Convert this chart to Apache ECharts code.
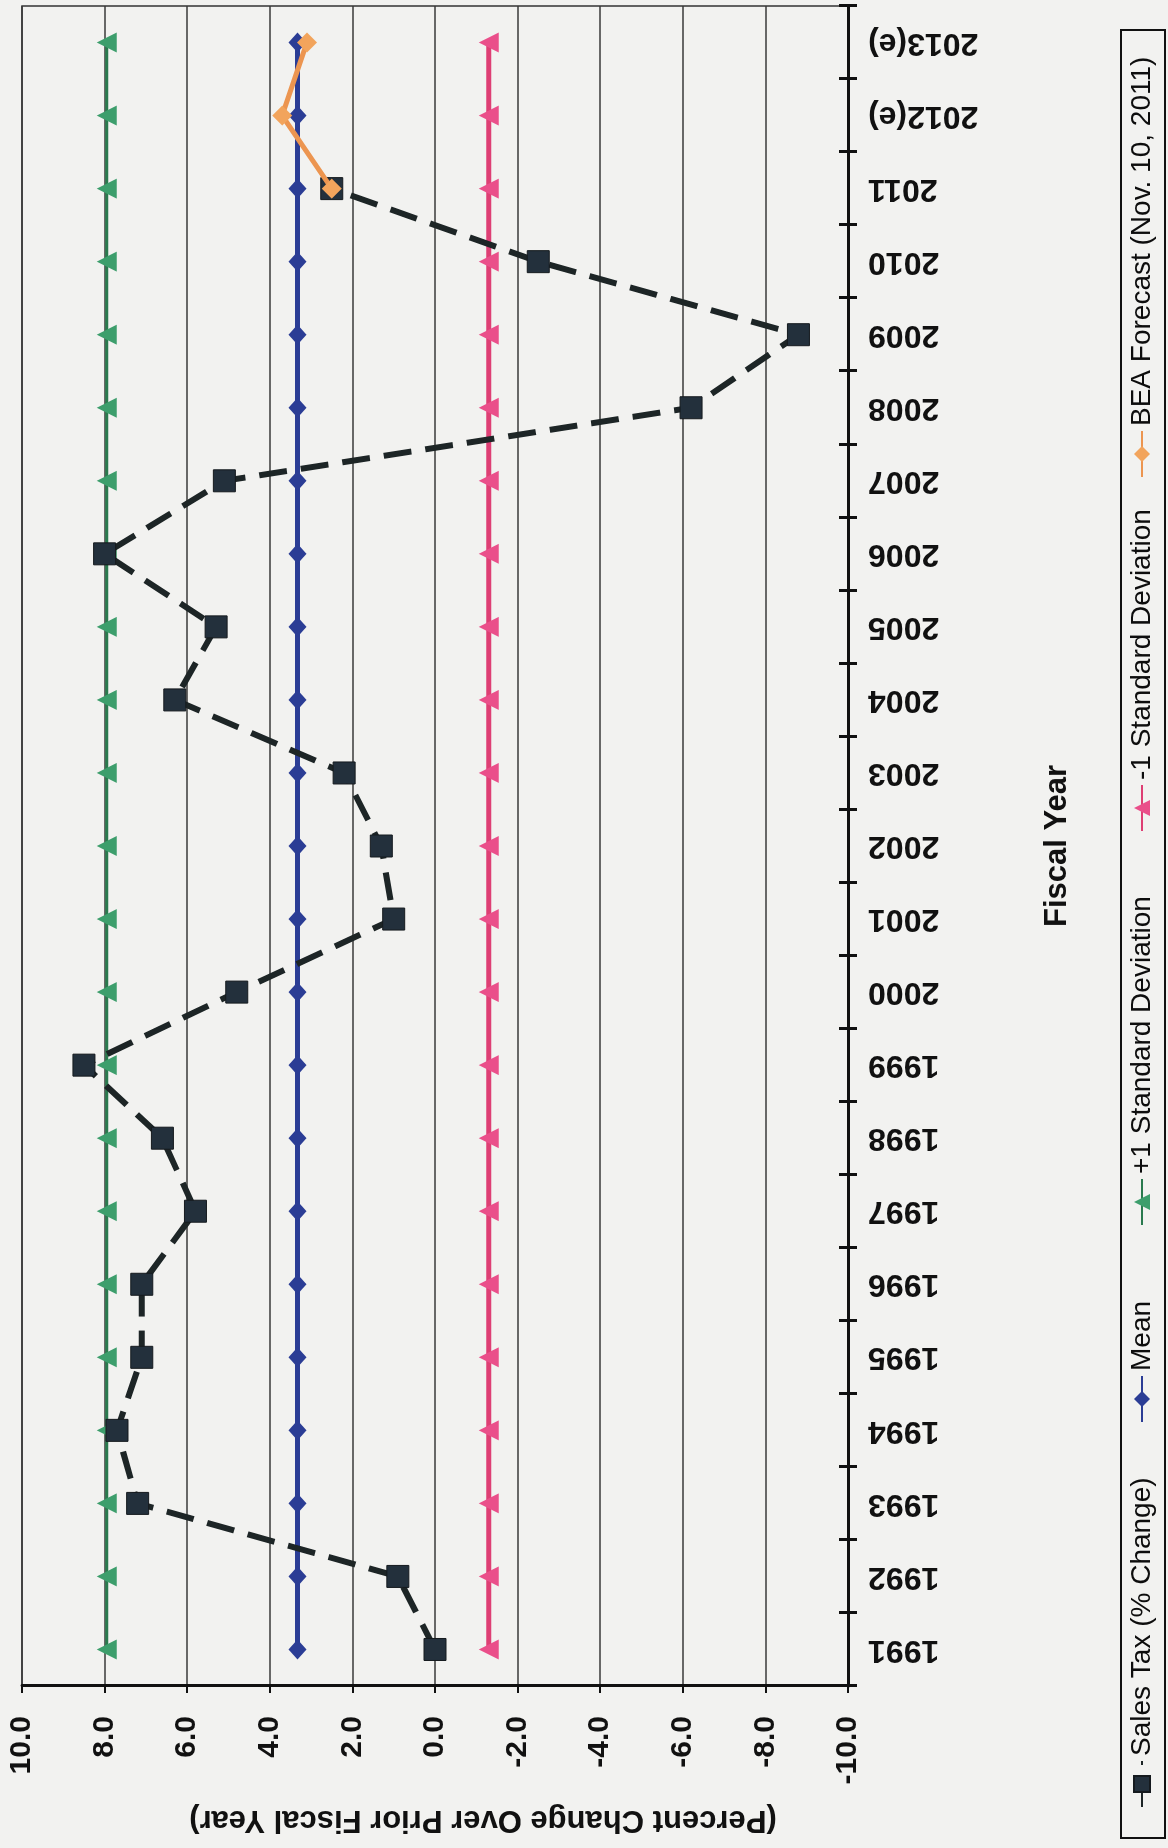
<!DOCTYPE html>
<html>
<head>
<meta charset="utf-8">
<script src="https://cdn.jsdelivr.net/npm/echarts@6/dist/echarts.min.js"></script>
<style>
  html, body { margin: 0; padding: 0; background: #f2f2f0; }
  body { width: 1168px; height: 1848px; overflow: hidden; position: relative; }
  /* landscape chart turned a quarter-turn counter-clockwise onto the portrait page */
  #chart {
    position: absolute; left: 0; top: 0;
    width: 1848px; height: 1168px;
    transform-origin: 0 0;
    transform: translate(0, 1848px) rotate(-90deg);
  }
</style>
</head>
<body>
<div id="chart"></div>
<script>
const fiscalYears = ['1991','1992','1993','1994','1995','1996','1997','1998','1999','2000',
  '2001','2002','2003','2004','2005','2006','2007','2008','2009','2010','2011','2012(e)','2013(e)'];

const salesTaxChange = [0.0, 0.9, 7.2, 7.7, 7.1, 7.1, 5.8, 6.6, 8.5, 4.8,
  1.0, 1.3, 2.2, 6.3, 5.3, 8.0, 5.1, -6.2, -8.8, -2.5, 2.5, null, null];

const meanLine = [3.33, 3.33, 3.33, 3.33, 3.33, 3.33, 3.33, 3.33, 3.33, 3.33, 3.33, 3.33,
  3.33, 3.33, 3.33, 3.33, 3.33, 3.33, 3.33, 3.33, 3.33, 3.33, 3.33];

const plusOneSD = [7.95, 7.95, 7.95, 7.95, 7.95, 7.95, 7.95, 7.95, 7.95, 7.95, 7.95, 7.95,
  7.95, 7.95, 7.95, 7.95, 7.95, 7.95, 7.95, 7.95, 7.95, 7.95, 7.95];

const minusOneSD = [-1.3, -1.3, -1.3, -1.3, -1.3, -1.3, -1.3, -1.3, -1.3, -1.3, -1.3, -1.3,
  -1.3, -1.3, -1.3, -1.3, -1.3, -1.3, -1.3, -1.3, -1.3, -1.3, -1.3];

const beaForecast = [null, null, null, null, null, null, null, null, null, null,
  null, null, null, null, null, null, null, null, null, null, 2.5, 3.7, 3.1];

const seriesNames = ['Sales Tax (% Change)', 'Mean', '+1 Standard Deviation',
  '-1 Standard Deviation', 'BEA Forecast (Nov. 10, 2011)'];

const valueTicks = { min: -10, max: 10, step: 2 };

const FONT = '"Liberation Sans", Arial, Helvetica, sans-serif';

// one legend block per series so each entry sits at its own place along the key box
const legendStarts = [40, 425, 622, 1016, 1370];
const legends = seriesNames.map((name, i) => ({
  data: [name],
  left: legendStarts[i], top: 1128,
  itemWidth: 46, itemHeight: 20, itemGap: 8,
  padding: 0,
  textStyle: { fontFamily: FONT, fontSize: 28, color: '#0d0d0d' }
}));

const chart = echarts.init(document.getElementById('chart'), null, { renderer: 'canvas' });

chart.setOption({
  backgroundColor: '#f2f2f0',
  animation: false,
  grid: {
    left: 162, right: 6, top: 22, bottom: 320,
    show: true, borderColor: '#333', borderWidth: 1.5, backgroundColor: 'transparent'
  },
  legend: legends,
  xAxis: [
    {
      type: 'category', data: fiscalYears, position: 'bottom', boundaryGap: true,
      axisLine: { onZero: false, lineStyle: { color: '#111', width: 3 } },
      axisTick: { show: true, length: 9, lineStyle: { color: '#111', width: 3 } },
      axisLabel: { rotate: 90, margin: 20, fontFamily: FONT, fontWeight: 'bold', fontSize: 32, color: '#111' },
      splitLine: { show: false }
    },
    {
      type: 'category', data: fiscalYears, position: 'bottom', boundaryGap: true,
      axisLine: { show: false, onZero: false },
      axisTick: { show: true, inside: true, length: 9, lineStyle: { color: '#111', width: 3 } },
      axisLabel: { show: false },
      splitLine: { show: false }
    }
  ],
  yAxis: {
    type: 'value', min: valueTicks.min, max: valueTicks.max, interval: valueTicks.step,
    axisLine: { show: true, lineStyle: { color: '#111', width: 3 } },
    axisTick: { show: true, length: 7, lineStyle: { color: '#111', width: 2 } },
    axisLabel: {
      margin: 30, fontFamily: FONT, fontWeight: 'bold', fontSize: 30, color: '#111',
      formatter: v => v.toFixed(1)
    },
    splitLine: { show: true, lineStyle: { color: '#3a3a3a', width: 1.5 } }
  },
  graphic: [
    {
      type: 'text', x: 28, y: 483, rotation: Math.PI / 2,
      style: {
        text: '(Percent Change Over Prior Fiscal Year)', fontFamily: FONT, fontWeight: 'bold',
        fontSize: 31, fill: '#111', align: 'center', verticalAlign: 'middle'
      }
    },
    {
      type: 'text', x: 1002, y: 1057,
      style: {
        text: 'Fiscal Year', fontFamily: FONT, fontWeight: 'bold',
        fontSize: 31, fill: '#111', align: 'center', verticalAlign: 'middle'
      }
    },
    {
      type: 'rect', shape: { x: 10, y: 1121, width: 1808, height: 44 },
      style: { fill: 'none', stroke: '#111', lineWidth: 2 }, z: 0
    }
  ],
  series: [
    {
      name: seriesNames[1], type: 'line', data: meanLine,
      symbol: 'diamond', symbolSize: [20, 18],
      itemStyle: { color: '#2b3d95' },
      lineStyle: { color: '#2b3d95', width: 5 }, z: 2
    },
    {
      name: seriesNames[2], type: 'line', data: plusOneSD,
      symbol: 'triangle', symbolSize: 20,
      itemStyle: { color: '#3d9e6c' },
      lineStyle: { color: '#2a7a4e', width: 3 }, z: 2
    },
    {
      name: seriesNames[3], type: 'line', data: minusOneSD,
      symbol: 'triangle', symbolSize: 20,
      itemStyle: { color: '#ea4f8a' },
      lineStyle: { color: '#de3f74', width: 5 }, z: 2
    },
    {
      name: seriesNames[0], type: 'line', data: salesTaxChange,
      symbol: 'rect', symbolSize: 22, connectNulls: false,
      itemStyle: { color: '#23303c', borderColor: '#151a1e', borderWidth: 1 },
      lineStyle: { color: '#1d2526', width: 6, type: [28, 14] }, z: 3
    },
    {
      name: seriesNames[4], type: 'line', data: beaForecast,
      symbol: 'diamond', symbolSize: 20,
      itemStyle: { color: '#f2a45c' },
      lineStyle: { color: '#ec9550', width: 5 }, z: 4
    }
  ]
});
</script>
</body>
</html>
